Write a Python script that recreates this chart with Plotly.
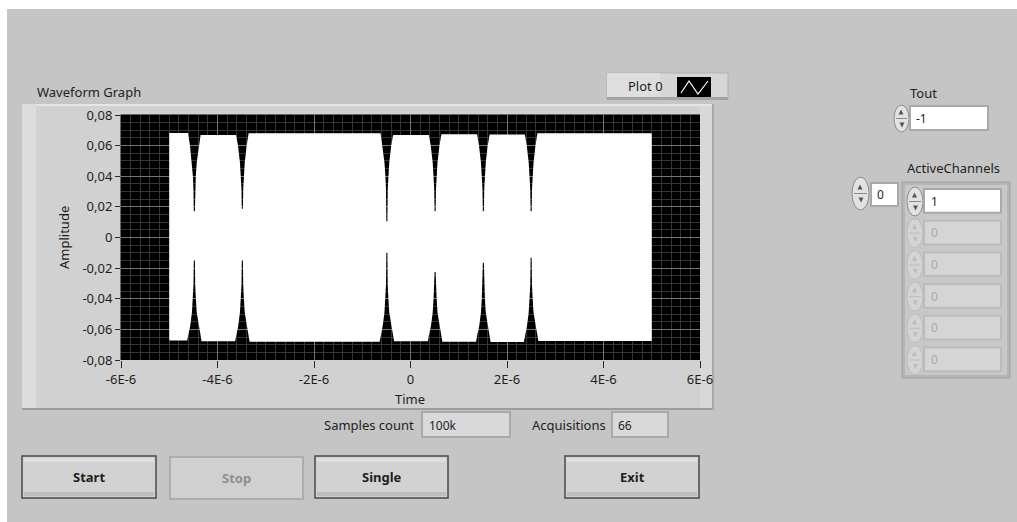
import plotly.graph_objects as go

# ---------------- waveform envelope (time in microseconds) ----------------
burst_start_us = -5.0
burst_stop_us = 5.0
notch_center_us = [-4.48, -3.485, -0.49, 0.51, 1.51, 2.50]
notch_top_tip = [0.0171, 0.0188, 0.0106, 0.0171, 0.0171, 0.0171]
notch_bottom_tip = [-0.0149, -0.0149, -0.0099, -0.0226, -0.0165, -0.0132]
# flat envelope level of each stretch between the notches
top_level = [0.0682, 0.0670, 0.0680, 0.0669, 0.0675, 0.0672, 0.0680]
bottom_level = [-0.0672, -0.0678, -0.0680, -0.0678, -0.0680, -0.0682, -0.0676]
# notch walls: distance from the notch centre (us) -> envelope level
upper_shoulder_us = 0.13
upper_wall_offset = [0.09, 0.05, 0.03, 0.019]
upper_wall_level = [0.060, 0.049, 0.040, 0.032]
lower_shoulder_us = 0.15
lower_wall_offset = [0.13, 0.085, 0.05, 0.032, 0.018]
lower_wall_level = [-0.064, -0.0576, -0.049, -0.040, -0.031]
tip_half_width_us = 0.011

# ---------------- axes ----------------
x_tick_vals = [-6e-6, -4e-6, -2e-6, 0, 2e-6, 4e-6, 6e-6]
x_tick_text = ["-6E-6", "-4E-6", "-2E-6", "0", "2E-6", "4E-6", "6E-6"]
y_tick_vals = [-0.08, -0.06, -0.04, -0.02, 0, 0.02, 0.04, 0.06, 0.08]
y_tick_text = ["-0,08", "-0,06", "-0,04", "-0,02", "0", "0,02", "0,04", "0,06", "0,08"]

# ---------------- front panel values ----------------
samples_count = "100k"
acquisitions = "66"
tout_value = "-1"
array_index = "0"
active_channels = ["1", "0", "0", "0", "0", "0"]
buttons = [("Start", 22, 156, True), ("Stop", 170, 303, False),
           ("Single", 315, 448, True), ("Exit", 565, 699, True)]


def envelope(side):
    if side == "upper":
        levels, tips, shoulder = top_level, notch_top_tip, upper_shoulder_us
        offs, levs = upper_wall_offset, upper_wall_level
    else:
        levels, tips, shoulder = bottom_level, notch_bottom_tip, lower_shoulder_us
        offs, levs = lower_wall_offset, lower_wall_level
    t, v = [burst_start_us], [levels[0]]
    for i, c in enumerate(notch_center_us):
        t.append(c - shoulder); v.append(levels[i])
        for o, l in zip(offs, levs):
            t.append(c - o); v.append(l)
        t += [c - tip_half_width_us, c + tip_half_width_us]
        v += [tips[i], tips[i]]
        for o, l in reversed(list(zip(offs, levs))):
            t.append(c + o); v.append(l)
        t.append(c + shoulder); v.append(levels[i + 1])
    t.append(burst_stop_us); v.append(levels[-1])
    return t, v


ut, uv = envelope("upper")
lt, lv = envelope("lower")
poly_t = [x * 1e-6 for x in ut + lt[::-1]]
poly_v = uv + lv[::-1]

W, H = 1017, 522
ML, MR, MT, MB = 121, 317, 115, 162
PW, PH = W - ML - MR, H - MT - MB
FONT = "Noto Sans"


def X(px):
    return (px - ML) / PW


def Y(py):
    return (H - MB - py) / PH


shapes = []


def rect(x0, y0, x1, y1, fill, line=None, lw=1, layer="below"):
    shapes.append(dict(type="rect", xref="paper", yref="paper",
                       x0=X(x0), x1=X(x1), y0=Y(y1), y1=Y(y0),
                       fillcolor=fill, layer=layer,
                       line=dict(color=line or fill, width=lw if line else 0)))


def seg(x0, y0, x1, y1, color, lw=1):
    shapes.append(dict(type="line", xref="paper", yref="paper",
                       x0=X(x0), x1=X(x1), y0=Y(y0), y1=Y(y1),
                       layer="below", line=dict(color=color, width=lw)))


def poly(points, fill, line=None, lw=1):
    d = "M " + " L ".join(f"{X(a)},{Y(b)}" for a, b in points) + " Z"
    shapes.append(dict(type="path", xref="paper", yref="paper", path=d,
                       fillcolor=fill, layer="below",
                       line=dict(color=line or fill, width=lw if line else 0)))


def ellipse(x0, y0, x1, y1, fill, line):
    shapes.append(dict(type="circle", xref="paper", yref="paper",
                       x0=X(x0), x1=X(x1), y0=Y(y1), y1=Y(y0),
                       fillcolor=fill, layer="below", line=dict(color=line, width=1)))


annotations = []


def text(x, y, s, size=13, color="#1e1e1e", anchor="center", bold=False, angle=0):
    annotations.append(dict(xref="paper", yref="paper", x=X(x), y=Y(y),
                            text=f"<b>{s}</b>" if bold else s, showarrow=False,
                            xanchor=anchor, yanchor="middle", textangle=angle,
                            font=dict(family=FONT, size=size, color=color)))


def spinner(x0, y0, x1, y1, enabled=True):
    fill, edge, mark = ("#e2e2e2", "#8a8a8a", "#555555") if enabled else ("#d4d4d4", "#bdbdbd", "#bcbcbc")
    ellipse(x0, y0, x1, y1, fill, edge)
    xm, ym = (x0 + x1) / 2, (y0 + y1) / 2
    seg(x0 + 2, ym, x1 - 2, ym, edge)
    poly([(xm - 3, ym - 4), (xm + 2, ym - 4), (xm - 0.5, ym - 9)], mark)
    poly([(xm - 2, ym + 4), (xm + 3, ym + 4), (xm + 0.5, ym + 9)], mark)


def numbox(x0, y0, x1, y1, fill, edge="#a9a9a9"):
    rect(x0 - 2, y0 - 2, x1 + 2, y1 + 2, edge)
    rect(x0, y0, x1, y1, fill)


# white border of the capture
rect(0, 0, W, 9, "white")
rect(0, 0, 7, H, "white")

# graph frame
rect(22, 104, 712, 410, "#d1d1d1")
rect(22, 104, 712, 106, "#e6e6e6")
rect(22, 104, 36, 410, "#dddddd")
rect(700, 106, 712, 410, "#d8d8d8")
rect(22, 408, 712, 410, "#9c9c9c")
rect(712, 104, 714, 410, "#a9a9a9")
# plot background (grid is drawn over it)
rect(ML - 0.5, MT - 0.5, ML + PW, MT + PH, "black")

text(35, 92, "Waveform Graph", anchor="left")

# plot legend
rect(607, 73, 728, 99, "#d6d6d6", "#b0b0b0")
rect(607, 73, 660, 99, "#dedede")
rect(607, 97, 728, 100, "#a4a4a4")
text(645, 86, "Plot 0")
rect(677, 77, 711, 97, "black")
shapes.append(dict(type="path", xref="paper", yref="paper", layer="below",
                   path=f"M {X(681)},{Y(93)} L {X(689)},{Y(81)} L {X(698)},{Y(94)} L {X(708)},{Y(81)}",
                   line=dict(color="white", width=1.2)))

# axis titles
text(64, 238, "Amplitude", angle=-90)
text(410, 399, "Time")

# indicators under the graph
text(416, 425, "Samples count", anchor="right")
numbox(423, 413, 509, 436, "#d9d9d9")
text(427, 425, samples_count, size=12, anchor="left")
text(608, 425, "Acquisitions", anchor="right")
numbox(613, 413, 667, 436, "#d9d9d9")
text(616, 425, acquisitions, size=12, anchor="left")

# buttons
for label, x0, x1, enabled in buttons:
    if enabled:
        rect(x0, 456, x1, 498, "#d2d2d2", "#4a4a4a", 1.5)
        rect(x0 + 2, 458, x1 - 2, 462, "#dedede")
        rect(x0 + 2, 492, x1 - 2, 496, "#bdbdbd")
        text((x0 + x1) / 2, 477, label, bold=True)
    else:
        rect(x0, 457, x1, 499, "#d0d0d0", "#a3a3a3", 1.5)
        text((x0 + x1) / 2, 478, label, color="#8e8e8e", bold=True)

# Tout control
text(923, 93, "Tout")
spinner(894, 105, 909, 132)
numbox(911, 107, 987, 129, "white")
text(914, 118, tout_value, size=12, anchor="left")

# ActiveChannels array
text(953, 168, "ActiveChannels")
spinner(852, 177, 869, 210)
numbox(872, 184, 897, 205, "white")
text(875, 194, array_index, size=12, anchor="left")
rect(902, 182, 1010, 378, "#b6b6b6", "#a0a0a0")
rect(905, 185, 1007, 375, "#c8c8c8")
for k, val in enumerate(active_channels):
    top = 190 + k * 31.7
    en = k == 0
    spinner(907, top - 3, 923, top + 26, en)
    numbox(925, top, 1000, top + 21.7, "white" if en else "#d5d5d5",
           "#a9a9a9" if en else "#bcbcbc")
    text(929, top + 11, val, size=12, color="#1e1e1e" if en else "#a8a8a8", anchor="left")

fig = go.Figure()
fig.add_trace(go.Scatter(x=poly_t, y=poly_v, mode="lines", fill="toself",
                         fillcolor="white", line=dict(width=0, color="white"),
                         hoverinfo="skip", showlegend=False))

axis_font = dict(family=FONT, size=13, color="#1e1e1e")
fig.update_layout(
    width=W, height=H, autosize=False,
    margin=dict(l=ML, r=MR, t=MT, b=MB, pad=0),
    paper_bgcolor="#c5c5c5", plot_bgcolor="black",
    shapes=shapes, annotations=annotations, showlegend=False,
    xaxis=dict(range=[-6e-6, 6e-6], tickmode="array", tickvals=x_tick_vals,
               ticktext=x_tick_text, ticks="outside", ticklen=7, tickwidth=1,
               tickcolor="#2a2a2a", tickfont=axis_font, showgrid=True,
               gridcolor="#767676", gridwidth=1, zeroline=False, showline=False,
               minor=dict(tickmode="linear", tick0=0, dtick=2e-7, showgrid=True,
                          gridcolor="#343434", gridwidth=1, ticks="")),
    yaxis=dict(range=[-0.08, 0.08], tickmode="array", tickvals=y_tick_vals,
               ticktext=y_tick_text, ticks="outside", ticklen=5, tickwidth=1,
               tickcolor="#2a2a2a", tickfont=axis_font, showgrid=True,
               gridcolor="#767676", gridwidth=1, zeroline=False, showline=False,
               minor=dict(tickmode="linear", tick0=0, dtick=0.005, showgrid=True,
                          gridcolor="#343434", gridwidth=1, ticks="")),
)

fig.write_html("out.html", config={"displayModeBar": False, "staticPlot": True})
